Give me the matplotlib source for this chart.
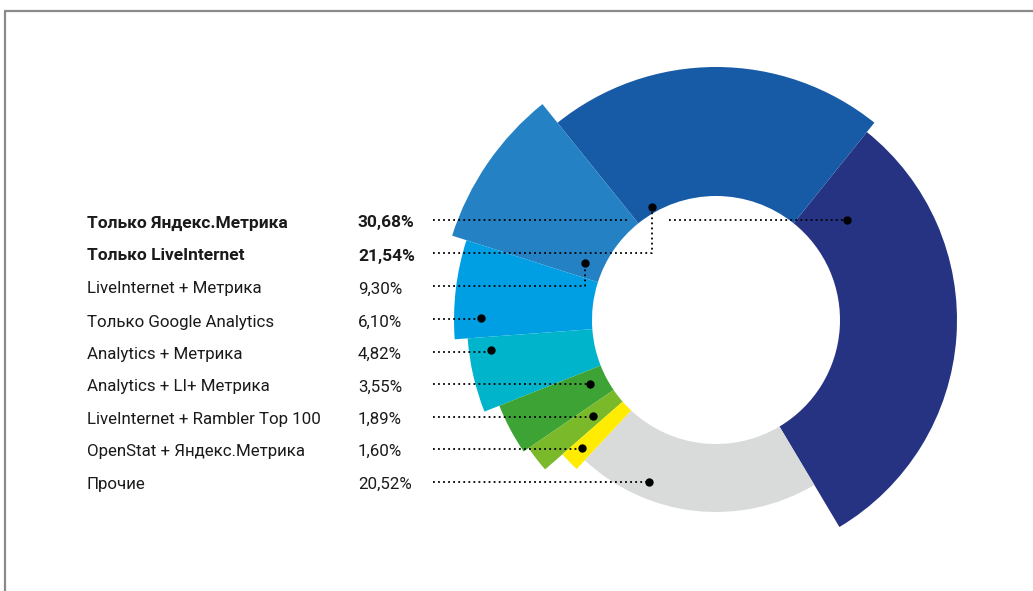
import matplotlib
matplotlib.use("Agg")
import matplotlib.pyplot as plt
from matplotlib.patches import Wedge

plt.rcParams['font.family'] = ['Roboto', 'DejaVu Sans']

# data (legend order)
labels = ["Только Яндекс.Метрика", "Только LiveInternet", "LiveInternet + Метрика",
          "Только Google Analytics", "Analytics + Метрика", "Analytics + LI+ Метрика",
          "LiveInternet + Rambler Top 100", "OpenStat + Яндекс.Метрика", "Прочие"]
shares = [30.68, 21.54, 9.30, 6.10, 4.82, 3.55, 1.89, 1.60, 20.52]
share_text = ["30,68%", "21,54%", "9,30%", "6,10%", "4,82%", "3,55%", "1,89%", "1,60%", "20,52%"]
bold_rows = [True, True, False, False, False, False, False, False, False]

# style
colors = ["#263383", "#175AA6", "#2381C4", "#009FE3", "#00B4CB",
          "#3DA335", "#7AB929", "#FFEC00", "#D9DADA"]
outer_r = [241, 253, 277, 262, 249, 233, 227, 204, 192]
inner_r = 124
W, H = 1033, 591
cx, cy = 716, H - 320
start_angle = -59.2

# layout of the legend (pixel rows from top)
row_y = [220, 253, 286, 319, 351.5, 384, 416.5, 448.5, 481.5]
label_x, pct_x, lead_x = 87, 358, 433
# dot anchors (pixels, from top-left)
dots = [(847, 220), (652, 207), (585, 263), (481, 318), (491, 350),
        (590, 384), (593, 416), (582, 448), (649, 482)]

fig = plt.figure(figsize=(W / 100, H / 100), dpi=100)
ax = fig.add_axes([0, 0, 1, 1])
ax.set_xlim(0, W)
ax.set_ylim(0, H)
ax.axis("off")

# frame (top and left edges)
ax.plot([4, W], [H - 11, H - 11], color="#8a8a8a", lw=1.6, solid_capstyle="butt")
ax.plot([4.5, 4.5], [0, H - 11], color="#8a8a8a", lw=1.6, solid_capstyle="butt")

a0 = start_angle
for v, c, r in zip(shares, colors, outer_r):
    a1 = a0 + 360 * v / 100
    ax.add_patch(Wedge((cx, cy), r, a0, a1, width=r - inner_r, facecolor=c,
                       edgecolor="none", antialiased=True))
    a0 = a1

dot_style = dict(color="black", lw=1.3, linestyle=(0, (1, 1.8)))
for i, (lab, pt, b) in enumerate(zip(labels, share_text, bold_rows)):
    y = H - row_y[i]
    w = "bold" if b else "normal"
    fs = 12.5 if b else 12.2
    ax.text(label_x, y - 3, lab, fontsize=fs, fontweight=w, color="#1a1a1a",
            va="center", ha="left")
    ax.text(pct_x, y - 3, pt, fontsize=fs, fontweight=w, color="#1a1a1a",
            va="center", ha="left")
    dx, dyp = dots[i]
    dy = H - dyp
    if i == 0:
        ax.plot([lead_x, 627], [y, y], **dot_style)
        ax.plot([669, dx], [y, y], **dot_style)
    elif abs(dy - y) > 3:
        ax.plot([lead_x, dx, dx], [y, y, dy], **dot_style)
    else:
        ax.plot([lead_x, dx], [y, y], **dot_style)
    ax.plot([dx], [dy], "o", color="black", ms=6, mec="none")

fig.savefig("out.png", dpi=100)
